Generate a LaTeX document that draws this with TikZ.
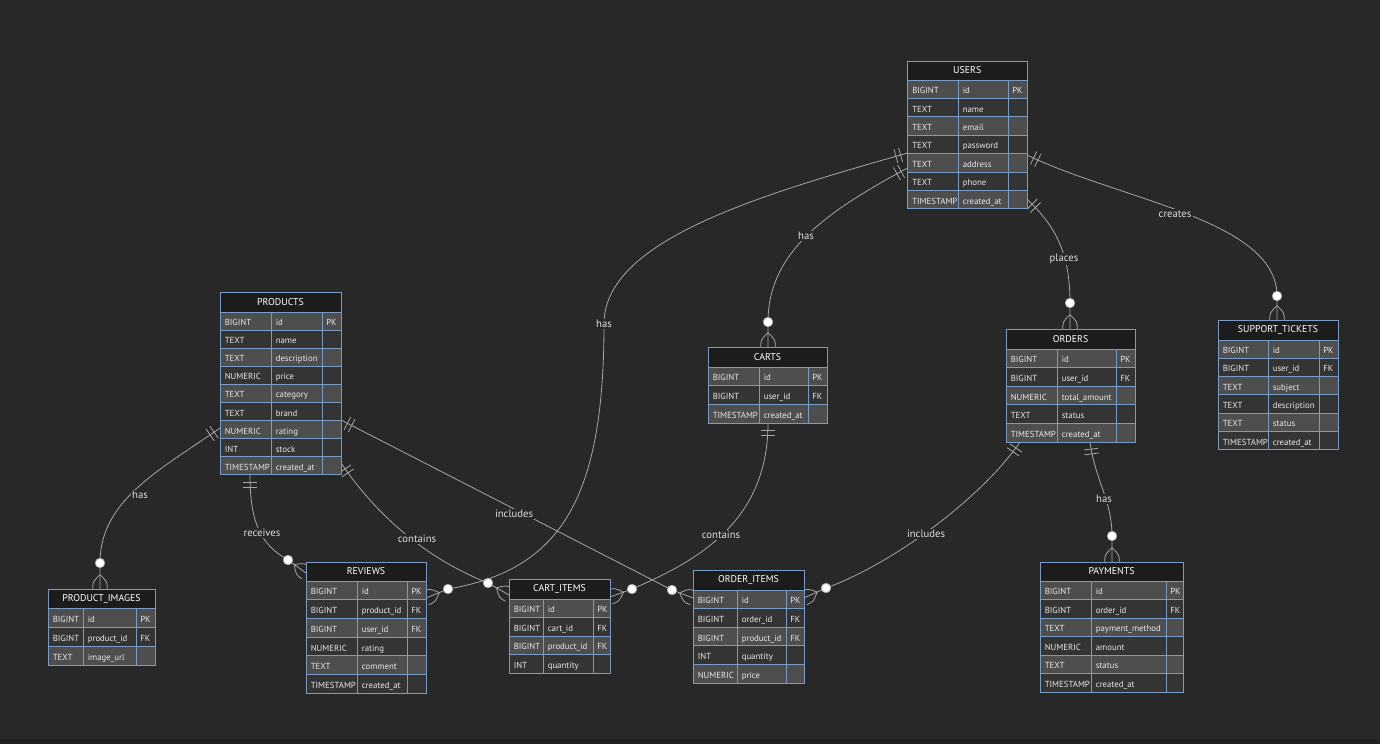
\documentclass[tikz,border=0pt]{standalone}
\usepackage{fontspec}
\setmainfont{PT Sans}
\usetikzlibrary{calc}
\definecolor{bgc}{HTML}{282828}
\definecolor{botc}{HTML}{202020}
\definecolor{hdrc}{HTML}{1C1C1C}
\definecolor{rowA}{HTML}{4E4E4E}
\definecolor{rowB}{HTML}{343434}
\definecolor{bordc}{HTML}{7A9CC4}
\definecolor{linec}{HTML}{A6A6A6}
\definecolor{txtc}{HTML}{E8E8E8}
\definecolor{lblc}{HTML}{DDDDDD}
\tikzset{
  cellb/.style={draw=bordc, line width=0.7pt},
  hdrtext/.style={text=white, font=\fontsize{7.4}{8}\selectfont, inner sep=0pt},
  celltext/.style={anchor=west, text=txtc, font=\fontsize{6.6}{7}\selectfont, inner sep=0pt, text height=0.68em, text depth=0pt},
  conn/.style={draw=linec, line width=0.6pt},
  lbl/.style={fill=bgc, text=lblc, font=\fontsize{8}{9}\selectfont, inner sep=1pt},
}
\newcommand\ertable[9]{%
  \def\tN{#1}\def\tX{#2}\def\tA{#3}\def\tB{#4}\def\tC{#5}\def\tY{#7}\def\tH{#8}%
  \draw[cellb, fill=hdrc] (#2,#6) rectangle (#5,#7);
  \node[hdrtext] (#1) at ({(#2+#5)/2},{(#6+#7)/2}) {#9};
}
\newcommand\errows[1]{%
  \foreach \ctype/\cname/\ckey [count=\i] in {#1} {
    \pgfmathsetmacro\yt{\tY+(\i-1)*\tH}
    \pgfmathsetmacro\yb{\tY+\i*\tH}
    \pgfmathsetmacro\ym{\tY+(\i-0.5)*\tH}
    \ifodd\i\relax\def\rf{rowA}\else\def\rf{rowB}\fi
    \draw[cellb, fill=\rf] (\tX,\yt) rectangle (\tA,\yb) (\tA,\yt) rectangle (\tB,\yb) (\tB,\yt) rectangle (\tC,\yb);
    \node[celltext] (\tN-\i-t) at (\tX+4.5,\ym) {\ctype};
    \node[celltext] (\tN-\i-n) at (\tA+4.5,\ym) {\cname};
    \node[celltext] (\tN-\i-k) at (\tB+4,\ym) {\ckey};
  }%
}
\newcommand\onemark[2]{%
  \coordinate (tka) at ($(#1)!5.4pt!(#2)$);
  \coordinate (tkb) at ($(#1)!9pt!(#2)$);
  \draw[conn] ($(tka)!5.4pt!90:(#2)$) -- ($(tka)!5.4pt!-90:(#2)$);
  \draw[conn] ($(tkb)!5.4pt!90:(#2)$) -- ($(tkb)!5.4pt!-90:(#2)$);
}
\newcommand\manymark[2]{%
  \coordinate (mkf) at ($(#1)!10.8pt!(#2)$);
  \coordinate (mkm) at ($(#1)!5.4pt!(#2)$);
  \draw[conn] (mkf) .. controls ($(mkm)!5.4pt!90:(#2)$) .. ($(#1)!5.4pt!90:(#2)$);
  \draw[conn] (mkf) .. controls ($(mkm)!5.4pt!-90:(#2)$) .. ($(#1)!5.4pt!-90:(#2)$);
  \filldraw[draw=linec, fill=white, line width=0.5pt] (#2) circle (3.6pt);
}
\begin{document}
\begin{tikzpicture}[x=0.75pt,y=-0.75pt]
\useasboundingbox (0,0) rectangle (1380,744);
\fill[bgc] (0,0) rectangle (1380,744);
\fill[botc] (0,739) rectangle (1380,744);

% attach points
\coordinate (u-rv) at (907.5,153);  \coordinate (u-rv-d) at (760,195);
\coordinate (u-ca) at (907.5,168);  \coordinate (u-ca-d) at (830,210);
\coordinate (u-or) at (1027,199);   \coordinate (u-or-d) at (1050,222);
\coordinate (u-st) at (1027,155);   \coordinate (u-st-d) at (1120,200);
\coordinate (p-pi) at (220,428);    \coordinate (p-pi-d) at (160,470);
\coordinate (p-rv) at (250,475);    \coordinate (p-rv-d) at (250,525);
\coordinate (p-ci) at (341,463);    \coordinate (p-ci-d) at (380,520);
\coordinate (p-oi) at (341,420);    \coordinate (p-oi-d) at (450,476);
\coordinate (c-ci) at (768,423);    \coordinate (c-ci-d) at (768,520);
\coordinate (o-oi) at (1020,442);   \coordinate (o-oi-d) at (980,500);
\coordinate (o-pa) at (1090,442);   \coordinate (o-pa-d) at (1095,480);

\coordinate (rv-u) at (426,598);  \coordinate (rv-uc) at (448,589);
\coordinate (ca-u) at (768,347);  \coordinate (ca-uc) at (768,322);
\coordinate (or-u) at (1070,329); \coordinate (or-uc) at (1070,303);
\coordinate (st-u) at (1277,320); \coordinate (st-uc) at (1277,296);
\coordinate (pi-p) at (100,589);  \coordinate (pi-pc) at (100,563);
\coordinate (rv-p) at (306,573);  \coordinate (rv-pc) at (288,560);
\coordinate (ci-p) at (509,595);  \coordinate (ci-pc) at (488,583);
\coordinate (oi-p) at (693,598);  \coordinate (oi-pc) at (672,590);
\coordinate (ci-c) at (610,597);  \coordinate (ci-cc) at (632,589);
\coordinate (oi-o) at (804,598);  \coordinate (oi-oc) at (826,588);
\coordinate (pa-o) at (1112,562); \coordinate (pa-oc) at (1112,536);

% connectors
\draw[conn] (u-rv) .. controls (u-rv-d) and (604,240) .. (604,324) .. controls (604,500) and (560,570) .. (rv-uc) -- (rv-u);
\draw[conn] (u-ca) .. controls (u-ca-d) and (768,250) .. (ca-uc) -- (ca-u);
\draw[conn] (u-or) .. controls (u-or-d) and (1070,245) .. (or-uc) -- (or-u);
\draw[conn] (u-st) .. controls (u-st-d) and (1277,220) .. (st-uc) -- (st-u);
\draw[conn] (p-pi) .. controls (p-pi-d) and (100,500) .. (pi-pc) -- (pi-p);
\draw[conn] (p-rv) .. controls (p-rv-d) and (262,545) .. (rv-pc) -- (rv-p);
\draw[conn] (p-ci) .. controls (p-ci-d) and (430,560) .. (ci-pc) -- (ci-p);
\draw[conn] (p-oi) .. controls (p-oi-d) and (600,553) .. (oi-pc) -- (oi-p);
\draw[conn] (c-ci) .. controls (c-ci-d) and (700,560) .. (ci-cc) -- (ci-c);
\draw[conn] (o-oi) .. controls (o-oi-d) and (890,565) .. (oi-oc) -- (oi-o);
\draw[conn] (o-pa) .. controls (o-pa-d) and (1112,500) .. (pa-oc) -- (pa-o);

% markers
\onemark{u-rv}{u-rv-d} \onemark{u-ca}{u-ca-d} \onemark{u-or}{u-or-d} \onemark{u-st}{u-st-d}
\onemark{p-pi}{p-pi-d} \onemark{p-rv}{p-rv-d} \onemark{p-ci}{p-ci-d} \onemark{p-oi}{p-oi-d}
\onemark{c-ci}{c-ci-d} \onemark{o-oi}{o-oi-d} \onemark{o-pa}{o-pa-d}
\manymark{rv-u}{rv-uc} \manymark{ca-u}{ca-uc} \manymark{or-u}{or-uc} \manymark{st-u}{st-uc}
\manymark{pi-p}{pi-pc} \manymark{rv-p}{rv-pc} \manymark{ci-p}{ci-pc} \manymark{oi-p}{oi-pc}
\manymark{ci-c}{ci-cc} \manymark{oi-o}{oi-oc} \manymark{pa-o}{pa-oc}

% labels
\node[lbl] (l1) at (604,324) {has};
\node[lbl] (l2) at (806,236) {has};
\node[lbl] (l3) at (1064,259) {places};
\node[lbl] (l4) at (1175,214) {creates};
\node[lbl] (l5) at (140,495) {has};
\node[lbl] (l6) at (262,533) {receives};
\node[lbl] (l7) at (417,539) {contains};
\node[lbl] (l8) at (514,514) {includes};
\node[lbl] (l9) at (721,535) {contains};
\node[lbl] (l10) at (926,534) {includes};
\node[lbl] (l11) at (1104,499) {has};

% tables
\ertable{users}{907.5}{958}{1008}{1027}{61}{80}{18.4}{USERS}
\errows{BIGINT/id/PK, TEXT/name/{}, TEXT/email/{}, TEXT/password/{}, TEXT/address/{}, TEXT/phone/{}, TIMESTAMP/created\_at/{}}

\ertable{products}{220}{271}{322}{341}{292}{312}{18.1}{PRODUCTS}
\errows{BIGINT/id/PK, TEXT/name/{}, TEXT/description/{}, NUMERIC/price/{}, TEXT/category/{}, TEXT/brand/{}, NUMERIC/rating/{}, INT/stock/{}, TIMESTAMP/created\_at/{}}

\ertable{carts}{708}{759}{808}{827}{347}{367}{18.7}{CARTS}
\errows{BIGINT/id/PK, BIGINT/user\_id/FK, TIMESTAMP/created\_at/{}}

\ertable{orders}{1006}{1057}{1116}{1135}{329}{349}{18.6}{ORDERS}
\errows{BIGINT/id/PK, BIGINT/user\_id/FK, NUMERIC/total\_amount/{}, TEXT/status/{}, TIMESTAMP/created\_at/{}}

\ertable{tickets}{1218}{1268}{1319}{1338}{320}{340}{18.3}{SUPPORT\_TICKETS}
\errows{BIGINT/id/PK, BIGINT/user\_id/FK, TEXT/subject/{}, TEXT/description/{}, TEXT/status/{}, TIMESTAMP/created\_at/{}}

\ertable{images}{48}{83}{136}{155}{589}{608}{19}{PRODUCT\_IMAGES}
\errows{BIGINT/id/PK, BIGINT/product\_id/FK, TEXT/image\_url/{}}

\ertable{reviews}{306}{357}{407}{426}{562}{581}{18.7}{REVIEWS}
\errows{BIGINT/id/PK, BIGINT/product\_id/FK, BIGINT/user\_id/FK, NUMERIC/rating/{}, TEXT/comment/{}, TIMESTAMP/created\_at/{}}

\ertable{cartitems}{509}{543}{593}{610}{579}{599}{18.5}{CART\_ITEMS}
\errows{BIGINT/id/PK, BIGINT/cart\_id/FK, BIGINT/product\_id/FK, INT/quantity/{}}

\ertable{orderitems}{693}{737}{786}{804}{570}{590}{18.6}{ORDER\_ITEMS}
\errows{BIGINT/id/PK, BIGINT/order\_id/FK, BIGINT/product\_id/FK, INT/quantity/{}, NUMERIC/price/{}}

\ertable{payments}{1040}{1091}{1166}{1183}{562}{581}{18.5}{PAYMENTS}
\errows{BIGINT/id/PK, BIGINT/order\_id/FK, TEXT/payment\_method/{}, NUMERIC/amount/{}, TEXT/status/{}, TIMESTAMP/created\_at/{}}
\end{tikzpicture}
\end{document}
